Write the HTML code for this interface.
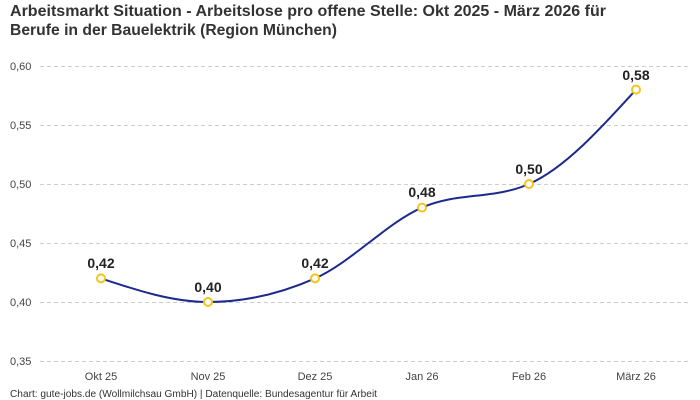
<!DOCTYPE html>
<html><head><meta charset="utf-8"><style>
html,body{margin:0;padding:0;background:#fff;}
svg{display:block;font-family:"Liberation Sans",sans-serif;}
</style></head><body>
<svg width="700" height="400" viewBox="0 0 700 400" xmlns="http://www.w3.org/2000/svg">
<text x="10" y="16" font-size="16" font-weight="bold" fill="#333" textLength="596" lengthAdjust="spacingAndGlyphs">Arbeitsmarkt Situation - Arbeitslose pro offene Stelle: Okt 2025 - März 2026 für</text>
<text x="10" y="35" font-size="16" font-weight="bold" fill="#333" textLength="327" lengthAdjust="spacingAndGlyphs">Berufe in der Bauelektrik (Region München)</text>
<g stroke="#ccc" stroke-dasharray="4,3" stroke-width="1">
<line x1="40" x2="690" y1="66.5" y2="66.5"/>
<line x1="40" x2="690" y1="125.5" y2="125.5"/>
<line x1="40" x2="690" y1="184.5" y2="184.5"/>
<line x1="40" x2="690" y1="243.5" y2="243.5"/>
<line x1="40" x2="690" y1="302.5" y2="302.5"/>
<line x1="40" x2="690" y1="361.5" y2="361.5"/>
</g>
<g font-size="11" fill="#444" text-anchor="start">
<text x="10" y="70">0,60</text>
<text x="10" y="129">0,55</text>
<text x="10" y="188">0,50</text>
<text x="10" y="247">0,45</text>
<text x="10" y="306">0,40</text>
<text x="10" y="365">0,35</text>
</g>
<g font-size="11" fill="#444" text-anchor="middle">
<text x="101" y="380">Okt 25</text>
<text x="208" y="380">Nov 25</text>
<text x="315" y="380">Dez 25</text>
<text x="422" y="380">Jan 26</text>
<text x="529" y="380">Feb 26</text>
<text x="636" y="380">März 26</text>
</g>
<path d="M101,278.4 C136.67,290.2 172.33,302 208,302 C243.67,302 279.33,294.1 315,278.4 C350.67,262.67 386.33,223.3 422,207.6 C457.67,191.9 493.33,199.7 529,184 C564.67,168.3 600.33,128.9 636,89.6" fill="none" stroke="#1b2a8c" stroke-width="2"/>
<g fill="#fff" stroke="#f5c518" stroke-width="2">
<circle cx="101" cy="278.4" r="4"/><circle cx="208" cy="302" r="4"/><circle cx="315" cy="278.4" r="4"/>
<circle cx="422" cy="207.6" r="4"/><circle cx="529" cy="184" r="4"/><circle cx="636" cy="89.6" r="4"/>
</g>
<g font-size="14" font-weight="bold" fill="#222" text-anchor="middle">
<text x="101" y="268">0,42</text>
<text x="208" y="292">0,40</text>
<text x="315" y="268">0,42</text>
<text x="422" y="197">0,48</text>
<text x="529" y="174">0,50</text>
<text x="636" y="80">0,58</text>
</g>
<text x="10" y="397" font-size="10" fill="#333" textLength="367" lengthAdjust="spacingAndGlyphs">Chart: gute-jobs.de (Wollmilchsau GmbH) | Datenquelle: Bundesagentur für Arbeit</text>
</svg>
</body></html>
